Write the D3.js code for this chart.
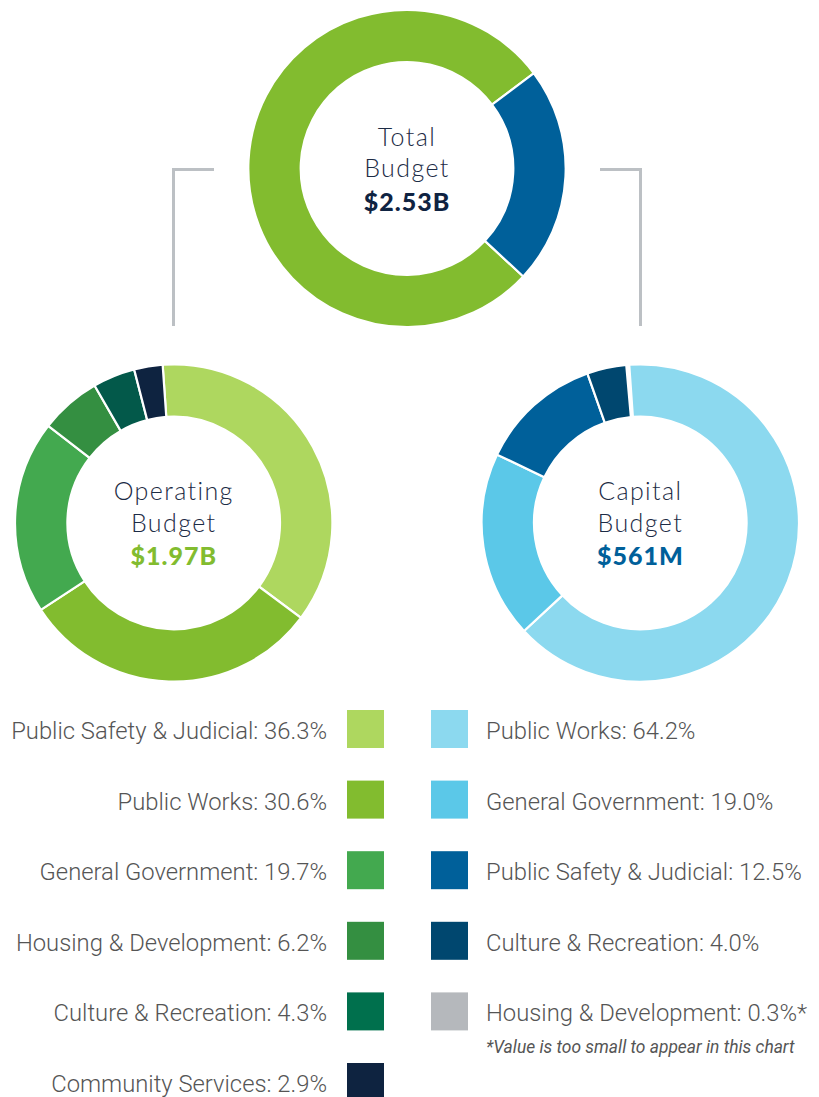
<!DOCTYPE html>
<html><head><meta charset="utf-8">
<script src="https://cdn.jsdelivr.net/npm/d3@7"></script>
<style>html,body{margin:0;padding:0;background:#fff}</style>
</head><body>
<svg id="chart" width="819" height="1097"></svg>
<script>
// ---- data ----
const totalCategories = ["Operating", "Capital"];
const totalValues = [1.97, 0.561];
const totalColors = ["#82bc2f", "#00609a"];

const operatingCategories = ["Public Safety & Judicial", "Public Works", "General Government", "Housing & Development", "Culture & Recreation", "Community Services"];
const operatingValues = [36.3, 30.6, 19.7, 6.2, 4.3, 2.9];
const operatingColors = ["#aed75f", "#82bc2f", "#43a94f", "#348f41", "#03594a", "#0e2340"];
const operatingLegendColors = ["#aed75f", "#82bc2f", "#43a94f", "#348f41", "#00704d", "#0e2340"];

const capitalCategories = ["Public Works", "General Government", "Public Safety & Judicial", "Culture & Recreation", "Housing & Development"];
const capitalValues = [64.2, 19.0, 12.5, 4.0, 0.3];
const capitalColors = ["#8cd9ef", "#5bc8e8", "#00609a", "#00476f", "#b5b8bc"];

const centerLabels = [["Total", "Budget", "$2.53B"], ["Operating", "Budget", "$1.97B"], ["Capital", "Budget", "$561M"]];
const centerValueColors = ["#0f2342", "#82bc2f", "#00609a"];
const footnote = "*Value is too small to appear in this chart";

// ---- drawing ----
const svg = d3.select("#chart");
const outerR = 158.7, innerR = 106.3;
const arc = d3.arc().innerRadius(innerR).outerRadius(outerR);
const deg = Math.PI / 180;

// connector lines
const conn = svg.append("g").attr("fill", "none").attr("stroke", "#bcc0c4").attr("stroke-width", 3);
conn.append("path").attr("d", d3.line()([[214, 169.5], [173.5, 169.5], [173.5, 326]]));
conn.append("path").attr("d", d3.line()([[600, 169.5], [640.5, 169.5], [640.5, 326]]));

function donut(cx, cy, values, colors, startDeg, labels, valueColor, minShare) {
  const total = d3.sum(values);
  const items = values.map((v, i) => ({v, c: colors[i]})).filter(d => d.v / total >= minShare);
  const pie = d3.pie().sort(null).value(d => d.v)
    .startAngle(startDeg * deg)
    .endAngle(startDeg * deg + 2 * Math.PI * d3.sum(items, d => d.v) / total);
  const g = svg.append("g").attr("transform", `translate(${cx},${cy})`);
  g.selectAll("path").data(pie(items)).join("path")
    .attr("d", arc).attr("fill", d => d.data.c)
    .attr("stroke", "#fff").attr("stroke-width", 2.2);
  const t = g.append("g").attr("text-anchor", "middle").attr("font-family", "Lato, sans-serif");
  t.append("text").attr("y", -23).attr("font-size", 25).attr("font-weight", 300).attr("letter-spacing", 1.4).attr("fill", "#1c2b45").text(labels[0]);
  t.append("text").attr("y", 8.5).attr("font-size", 25).attr("font-weight", 300).attr("letter-spacing", 1.4).attr("fill", "#1c2b45").text(labels[1]);
  t.append("text").attr("y", 42).attr("font-size", 25).attr("font-weight", 900).attr("letter-spacing", 1).attr("fill", valueColor).text(labels[2]);
}

// total: operating first, capital slice centred at ~93 deg
const capShare = totalValues[1] / d3.sum(totalValues);
donut(407, 168.5, totalValues, totalColors, 93 + capShare * 180, centerLabels[0], centerValueColors[0], 0);
donut(173.7, 523, operatingValues, operatingColors, -4, centerLabels[1], centerValueColors[1], 0);
donut(640.3, 523, capitalValues, capitalColors, -4, centerLabels[2], centerValueColors[2], 0.005);

// legends
const rowY = d3.scaleLinear().domain([0, 5]).range([710, 1063]);
const sw = 37, sh = 38;
const leg = svg.append("g").attr("font-family", "Roboto, sans-serif").attr("font-weight", 300).attr("font-size", 23.8).attr("fill", "#555");

operatingCategories.forEach((c, i) => {
  leg.append("rect").attr("x", 347).attr("y", rowY(i)).attr("width", sw).attr("height", sh).attr("fill", operatingLegendColors[i]);
  leg.append("text").attr("x", 327).attr("y", rowY(i) + 29).attr("text-anchor", "end")
    .text(`${c}: ${operatingValues[i].toFixed(1)}%`);
});
capitalCategories.forEach((c, i) => {
  leg.append("rect").attr("x", 431).attr("y", rowY(i)).attr("width", sw).attr("height", sh).attr("fill", capitalColors[i]);
  leg.append("text").attr("x", 486).attr("y", rowY(i) + 29).attr("text-anchor", "start")
    .text(`${c}: ${capitalValues[i].toFixed(1)}%` + (capitalValues[i] / d3.sum(capitalValues) < 0.005 ? "*" : ""));
});
leg.append("text").attr("x", 486).attr("y", 1053).attr("font-size", 17.4).attr("font-style", "italic").attr("font-weight", 400).attr("fill", "#555").text(footnote);
</script>
</body></html>
